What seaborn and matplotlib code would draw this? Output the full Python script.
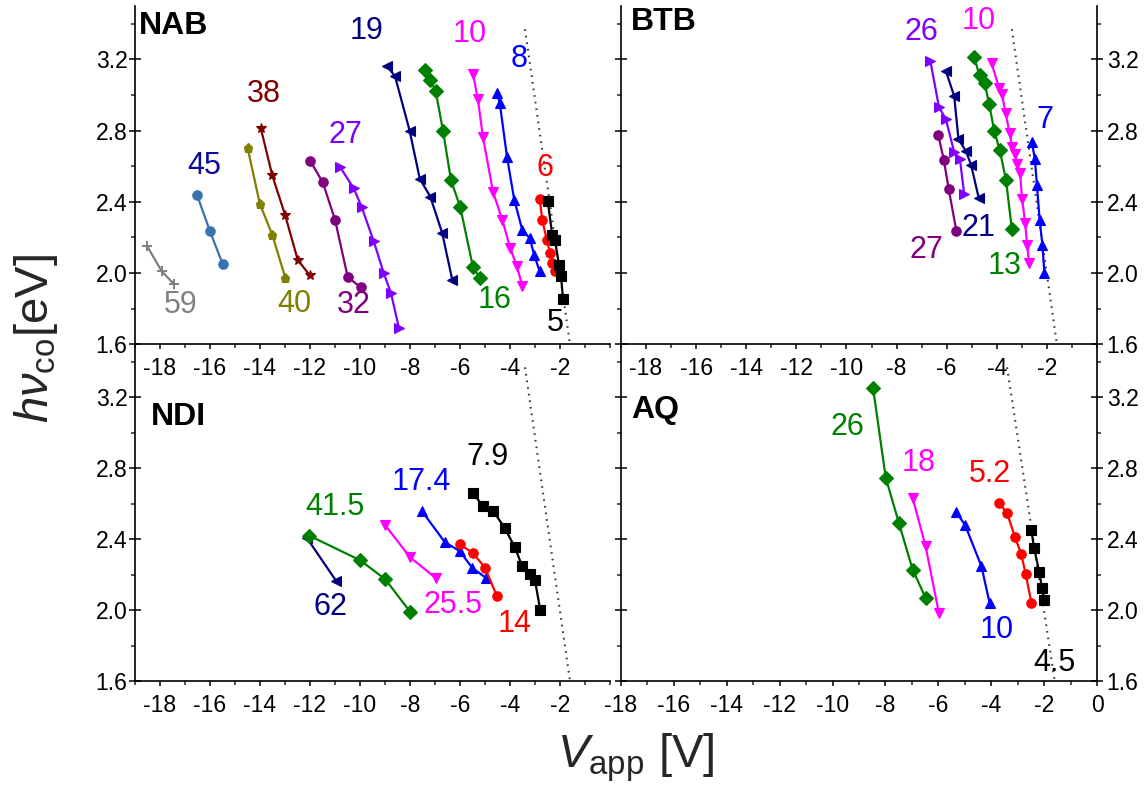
import matplotlib
matplotlib.use("Agg")
import matplotlib.pyplot as plt
from matplotlib.ticker import FixedLocator, MultipleLocator, FormatStrFormatter
import seaborn as sns

# ---------------- data: applied voltage (V) vs cut-off photon energy (eV) ----------------
# NAB
nab_59_v = [-18.51, -17.93, -17.45]
nab_59_e = [2.15, 2.01, 1.94]
nab_45_v = [-16.51, -16.00, -15.49]
nab_45_e = [2.436, 2.234, 2.05]
nab_40_v = [-14.49, -14.01, -13.51, -12.99]
nab_40_e = [2.70, 2.39, 2.215, 1.975]
nab_38_v = [-13.97, -13.51, -13.00, -12.49, -12.01]
nab_38_e = [2.815, 2.549, 2.328, 2.074, 1.988]
nab_32_v = [-11.99, -11.49, -11.00, -10.49, -9.97]
nab_32_e = [2.63, 2.51, 2.30, 1.977, 1.92]
nab_27_v = [-10.79, -10.25, -9.93, -9.45, -9.05, -8.76, -8.44]
nab_27_e = [2.594, 2.476, 2.37, 2.178, 2.00, 1.887, 1.69]
nab_19_v = [-8.92, -8.60, -8.01, -7.61, -7.19, -6.71, -6.31]
nab_19_e = [3.162, 3.106, 2.797, 2.53, 2.43, 2.224, 1.962]
nab_16_v = [-7.40, -7.19, -6.97, -6.68, -6.36, -5.99, -5.48, -5.19]
nab_16_e = [3.138, 3.087, 3.02, 2.80, 2.521, 2.371, 2.033, 1.971]
nab_10_v = [-5.48, -5.29, -5.08, -4.68, -4.31, -3.99, -3.72, -3.51]
nab_10_e = [3.12, 2.98, 2.763, 2.457, 2.30, 2.14, 2.037, 1.928]
nab_8_v = [-4.52, -4.41, -4.12, -3.83, -3.51, -3.21, -3.03, -2.81]
nab_8_e = [3.01, 2.956, 2.652, 2.412, 2.243, 2.196, 2.10, 2.009]
nab_6_v = [-2.81, -2.71, -2.52, -2.39, -2.31, -2.20]
nab_6_e = [2.416, 2.296, 2.183, 2.112, 2.056, 2.014]
nab_5_v = [-2.49, -2.31, -2.20, -2.04, -1.96, -1.88]
nab_5_e = [2.403, 2.215, 2.183, 2.046, 1.986, 1.855]

# BTB
btb_26_v = [-6.65, -6.31, -6.03, -5.70, -5.47, -5.30]
btb_26_e = [3.19, 2.934, 2.863, 2.679, 2.638, 2.444]
btb_21_v = [-6.03, -5.70, -5.53, -5.23, -5.03, -4.72]
btb_21_e = [3.134, 2.994, 2.753, 2.684, 2.609, 2.422]
btb_27_v = [-6.34, -6.11, -5.92, -5.61]
btb_27_e = [2.778, 2.633, 2.472, 2.234]
btb_13_v = [-4.91, -4.69, -4.49, -4.30, -4.10, -3.88, -3.63, -3.40]
btb_13_e = [3.215, 3.11, 3.069, 2.947, 2.797, 2.69, 2.521, 2.247]
btb_10_v = [-4.21, -3.91, -3.79, -3.65, -3.49, -3.38, -3.29, -3.18, -3.07, -2.99, -2.87, -2.79, -2.71]
btb_10_e = [3.18, 3.04, 3.003, 2.90, 2.787, 2.707, 2.67, 2.61, 2.56, 2.416, 2.284, 2.159, 2.056]
btb_7_v = [-2.60, -2.48, -2.40, -2.29, -2.18, -2.10]
btb_7_e = [2.735, 2.641, 2.496, 2.30, 2.159, 2.003]

# NDI
ndi_62_v = [-12.12, -10.95]
ndi_62_e = [2.406, 2.164]
ndi_415_v = [-12.04, -9.99, -8.99, -7.99]
ndi_415_e = [2.421, 2.281, 2.174, 1.99]
ndi_255_v = [-9.01, -8.01, -6.97]
ndi_255_e = [2.483, 2.30, 2.181]
ndi_174_v = [-7.52, -6.61, -6.01, -5.51, -4.97]
ndi_174_e = [2.558, 2.384, 2.333, 2.238, 2.183]
ndi_14_v = [-6.01, -5.48, -5.00, -4.52]
ndi_14_e = [2.371, 2.322, 2.239, 2.078]
ndi_79_v = [-5.48, -5.08, -4.68, -4.21, -3.81, -3.51, -3.19, -3.00, -2.79]
ndi_79_e = [2.66, 2.587, 2.562, 2.463, 2.356, 2.247, 2.206, 2.168, 2.00]

# AQ
aq_26_v = [-8.47, -7.99, -7.49, -6.97, -6.48]
aq_26_e = [3.256, 2.748, 2.491, 2.228, 2.069]
aq_18_v = [-6.97, -6.48, -5.98]
aq_18_e = [2.632, 2.359, 1.984]
aq_10_v = [-5.32, -4.99, -4.37, -4.06]
aq_10_e = [2.551, 2.481, 2.247, 2.04]
aq_52_v = [-3.69, -3.40, -3.10, -2.87, -2.70, -2.48]
aq_52_e = [2.603, 2.547, 2.412, 2.318, 2.206, 2.04]
aq_45_v = [-2.48, -2.38, -2.18, -2.08, -1.99]
aq_45_e = [2.45, 2.35, 2.213, 2.125, 2.056]

# guide line common to all panels
guide_v = [-3.40, -1.60]
guide_e = [3.37, 1.60]

# tick labels
x_ticks_19 = [-18, -16, -14, -12, -10, -8, -6, -4, -2]
x_ticks_18 = [-18, -16, -14, -12, -10, -8, -6, -4, -2, 0]
y_ticks = [1.6, 2.0, 2.4, 2.8, 3.2]

# ---------------- styles ----------------
BLACK, RED, BLUE, MAG = "#000000", "#FF0000", "#0000FF", "#FF00FF"
GREEN, NAVY, VIOLET, PURPLE = "#008000", "#000080", "#8000FF", "#800080"
DRED, OLIVE, GRAY, STEEL = "#800000", "#808000", "#808080", "#3A72B0"

# (v, e, line colour, marker, label text, label colour, label position)
nab_series = [
    (nab_59_v, nab_59_e, GRAY, "+", "59", GRAY, (-17.17, 1.82)),
    (nab_45_v, nab_45_e, STEEL, "o", "45", "#0A0AA0", (-16.24, 2.60)),
    (nab_40_v, nab_40_e, OLIVE, "p", "40", OLIVE, (-12.64, 1.825)),
    (nab_38_v, nab_38_e, DRED, "*", "38", DRED, (-13.84, 3.007)),
    (nab_32_v, nab_32_e, PURPLE, "o", "32", PURPLE, (-10.24, 1.821)),
    (nab_27_v, nab_27_e, VIOLET, ">", "27", VIOLET, (-10.57, 2.778)),
    (nab_19_v, nab_19_e, NAVY, "<", "19", NAVY, (-9.75, 3.36)),
    (nab_16_v, nab_16_e, GREEN, "D", "16", GREEN, (-4.61, 1.85)),
    (nab_10_v, nab_10_e, MAG, "v", "10", MAG, (-5.61, 3.34)),
    (nab_8_v, nab_8_e, BLUE, "^", "8", BLUE, (-3.64, 3.20)),
    (nab_6_v, nab_6_e, RED, "o", "6", RED, (-2.61, 2.59)),
    (nab_5_v, nab_5_e, BLACK, "s", "5", BLACK, (-2.17, 1.718)),
]
btb_series = [
    (btb_26_v, btb_26_e, VIOLET, ">", "26", VIOLET, (-7.01, 3.356)),
    (btb_21_v, btb_21_e, NAVY, "<", "21", NAVY, (-4.73, 2.253)),
    (btb_27_v, btb_27_e, PURPLE, "o", "27", PURPLE, (-6.79, 2.131)),
    (btb_13_v, btb_13_e, GREEN, "D", "13", GREEN, (-3.69, 2.037)),
    (btb_10_v, btb_10_e, MAG, "v", "10", MAG, (-4.73, 3.416)),
    (btb_7_v, btb_7_e, BLUE, "^", "7", BLUE, (-2.08, 2.859)),
]
ndi_series = [
    (ndi_62_v, ndi_62_e, NAVY, "<", "62", NAVY, (-11.17, 2.018)),
    (ndi_415_v, ndi_415_e, GREEN, "D", "41.5", GREEN, (-11.01, 2.581)),
    (ndi_255_v, ndi_255_e, MAG, "v", "25.5", MAG, (-6.28, 2.027)),
    (ndi_174_v, ndi_174_e, BLUE, "^", "17.4", BLUE, (-7.55, 2.722)),
    (ndi_14_v, ndi_14_e, RED, "o", "14", RED, (-3.81, 1.924)),
    (ndi_79_v, ndi_79_e, BLACK, "s", "7.9", BLACK, (-4.88, 2.862)),
]
aq_series = [
    (aq_26_v, aq_26_e, GREEN, "D", "26", GREEN, (-9.45, 3.031)),
    (aq_18_v, aq_18_e, MAG, "v", "18", MAG, (-6.74, 2.828)),
    (aq_10_v, aq_10_e, BLUE, "^", "10", BLUE, (-3.80, 1.89)),
    (aq_52_v, aq_52_e, RED, "o", "5.2", RED, (-4.06, 2.768)),
    (aq_45_v, aq_45_e, BLACK, "s", "4.5", BLACK, (-1.61, 1.703)),
]

# ---------------- figure ----------------
sns.set_theme(style="ticks")
plt.rcParams["font.family"] = ["Liberation Sans", "DejaVu Sans"]
plt.rcParams["mathtext.fontset"] = "custom"
plt.rcParams["mathtext.rm"] = "Liberation Sans"
plt.rcParams["mathtext.it"] = "Liberation Sans:italic"
plt.rcParams["axes.linewidth"] = 1.2

W, H = 1147, 791
fig = plt.figure(figsize=(W / 100, H / 100), dpi=100)
fig.patch.set_facecolor("white")


def px_axes(x0, x1, y0, y1):
    return fig.add_axes([x0 / W, 1 - y1 / H, (x1 - x0) / W, (y1 - y0) / H])


ax_nab = px_axes(135, 610, 6, 344.3)
ax_btb = px_axes(621, 1097, 6, 344.3)
ax_ndi = px_axes(135, 610, 344.3, 681)
ax_aq = px_axes(621, 1097, 344.3, 681)

panels = [
    (ax_nab, nab_series, "NAB", (-18.84, 3.39), (-19, 0), x_ticks_19, "left"),
    (ax_btb, btb_series, "BTB", (-18.6, 3.41), (-19, 0), x_ticks_19, "right"),
    (ax_ndi, ndi_series, "NDI", (-18.35, 3.09), (-19, 0), x_ticks_19, "left"),
    (ax_aq, aq_series, "AQ", (-17.6, 3.13), (-18, 0), x_ticks_18, "right"),
]

for ax, series, name, name_pos, xlim, xt, yside in panels:
    ax.set_facecolor("none")
    sns.lineplot(x=guide_v, y=guide_e, ax=ax, color="#3a3a3a", linewidth=1.5,
                 linestyle=(0, (0.8, 2.4)), sort=False, estimator=None)
    for v, e, col, mk, txt, tcol, tpos in series:
        mew = 1.4 if mk == "+" else 0.8
        ms = 7.5 if mk in ("*", "+") else 6.8
        sns.lineplot(x=v, y=e, ax=ax, color=col, marker=mk, markersize=ms,
                     markeredgecolor=col, markerfacecolor=col, markeredgewidth=mew,
                     linewidth=1.6, sort=False, estimator=None)
        ax.text(tpos[0], tpos[1], txt, color=tcol, fontsize=22,
                ha="center", va="center")
    ax.text(name_pos[0], name_pos[1], name, fontsize=23, fontweight="bold",
            ha="left", va="center", color="black")

    ax.set_xlim(*xlim)
    ax.set_ylim(1.6, 3.5)
    ax.set_xlabel("")
    ax.set_ylabel("")
    ax.xaxis.set_major_locator(FixedLocator(xt))
    ax.xaxis.set_minor_locator(MultipleLocator(1))
    ax.xaxis.set_major_formatter(FormatStrFormatter("%d"))
    ax.yaxis.set_major_locator(FixedLocator(y_ticks))
    ax.yaxis.set_minor_locator(MultipleLocator(0.2))
    ax.yaxis.set_major_formatter(FormatStrFormatter("%.1f"))

    ax.spines["top"].set_visible(False)
    for s in ax.spines.values():
        s.set_linewidth(1.2)
        s.set_color("black")

    ax.tick_params(axis="x", which="major", direction="out", length=3.5, width=1.1,
                   labelsize=16.5, pad=6, colors="black")
    ax.tick_params(axis="x", which="minor", direction="out", length=3, width=1.1)
    ax.tick_params(axis="y", which="major", direction="inout", length=8, width=1.1,
                   labelsize=16.5, colors="black")
    ax.tick_params(axis="y", which="minor", direction="out", length=3, width=1.1)
    if yside == "left":
        ax.spines["right"].set_visible(False)
        ax.tick_params(axis="y", which="both", left=True, right=False,
                       labelleft=True, labelright=False, pad=1.5)
    else:
        ax.tick_params(axis="y", which="both", left=True, right=True,
                       labelleft=False, labelright=True, pad=3)

# shared axis titles
fig.text(36 / W, 1 - 339 / H, r"$h\nu_{\rm co}$[eV]", rotation=90,
         fontsize=34, ha="center", va="center")
fig.text(636 / W, 1 - 767 / H, r"$V_{\rm app}$ [V]", fontsize=34,
         ha="center", va="baseline")

fig.savefig("out.png", dpi=100, facecolor="white")
